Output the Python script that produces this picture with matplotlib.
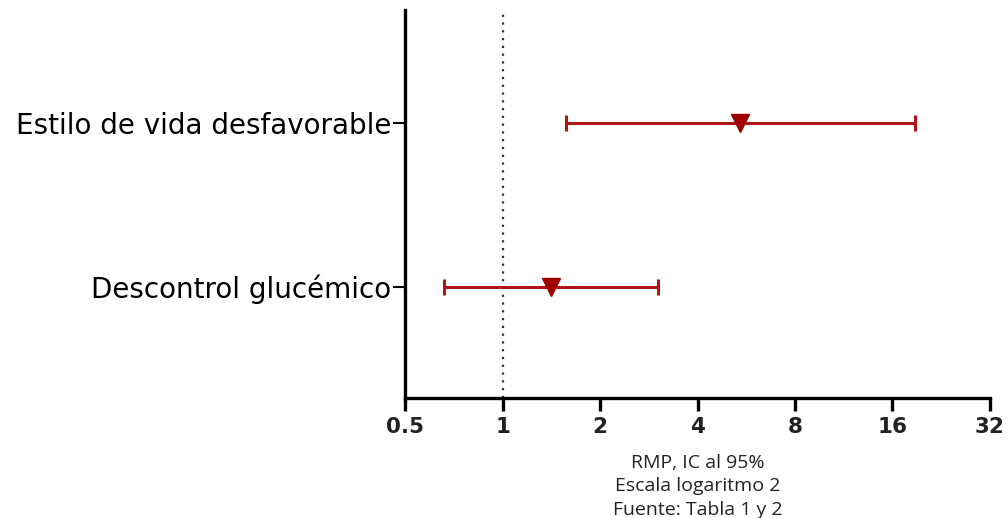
import matplotlib
matplotlib.use("Agg")
import matplotlib.pyplot as plt
import numpy as np

categories = ["Descontrol glucémico", "Estilo de vida desfavorable"]
estimate = [1.41, 5.4]
ci_low = [0.66, 1.57]
ci_high = [3.03, 18.8]
xticks = [0.5, 1, 2, 4, 8, 16, 32]
xtick_labels = ["0.5", "1", "2", "4", "8", "16", "32"]

fig = plt.figure(figsize=(10.08, 5.18), dpi=100)
ax = fig.add_axes([0.402, 0.232, 0.58, 0.749])

ypos = np.arange(1, len(categories) + 1)
est = np.array(estimate)
lo = np.array(ci_low)
hi = np.array(ci_high)
ax.errorbar(est, ypos, xerr=[est - lo, hi - est], fmt="none", ecolor="#B01515",
            elinewidth=2.2, capsize=6, capthick=2.2, zorder=3)
ax.plot(est, ypos, linestyle="none", marker="v", markersize=13, color="#9E0000", zorder=4)

ax.axvline(1, color="#333333", linestyle=(0, (1, 2.5)), linewidth=1.6, zorder=1)

ax.set_xscale("log", base=2)
ax.set_xlim(0.5, 32)
ax.set_ylim(0.32, 2.69)
ax.set_xticks(xticks)
ax.set_xticklabels(xtick_labels)
ax.minorticks_off()
ax.set_yticks(ypos)
ax.set_yticklabels(categories)

for s in ["top", "right"]:
    ax.spines[s].set_visible(False)
for s in ["left", "bottom"]:
    ax.spines[s].set_linewidth(2.4)
ax.tick_params(axis="x", length=9, width=2.4, labelsize=15.5, pad=5)
ax.tick_params(axis="y", length=9, width=1.5, labelsize=20, pad=1)
for lab in ax.get_xticklabels():
    lab.set_fontfamily("DejaVu Sans")
    lab.set_fontweight("bold")
    lab.set_color("#222222")
for lab in ax.get_yticklabels():
    lab.set_fontfamily("DejaVu Sans")
    lab.set_color("#000000")

ax.set_xlabel("RMP, IC al 95%\nEscala logaritmo 2\nFuente: Tabla 1 y 2",
              fontfamily="Open Sans", fontsize=14, linespacing=1.38, labelpad=12,
              color="#222222")

fig.savefig("out.png", dpi=100)
